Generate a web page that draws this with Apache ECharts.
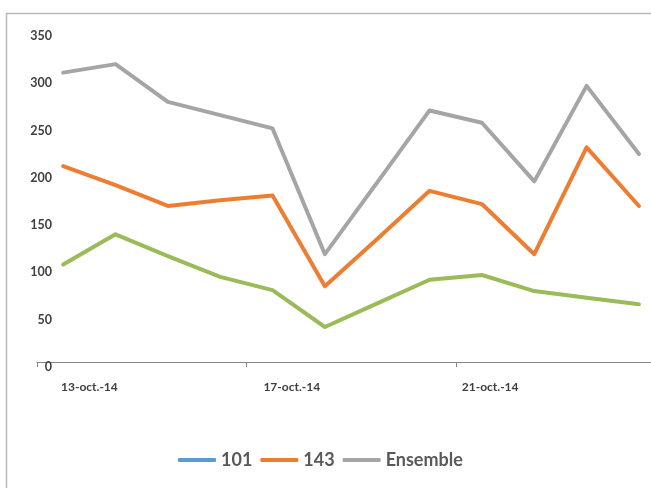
<!DOCTYPE html>
<html>
<head>
<meta charset="utf-8">
<script src="https://cdn.jsdelivr.net/npm/echarts@6/dist/echarts.min.js"></script>
<style>
  html, body { margin: 0; padding: 0; background: #fff; }
  #chart { width: 651px; height: 488px; }
</style>
</head>
<body>
<div id="chart"></div>
<script>
// Data
const categories = ['13-oct.-14','14-oct.-14','15-oct.-14','16-oct.-14','17-oct.-14','18-oct.-14',
                    '19-oct.-14','20-oct.-14','21-oct.-14','22-oct.-14','23-oct.-14','24-oct.-14'];
const s101      = [103, 135, 112, 90, 76, 37, 62, 87, 92, 75, 68, 61];
const s143      = [207, 187, 165, 171, 176, 80, 130, 181, 167, 114, 227, 165];
const sEnsemble = [306, 315, 275, 261, 247, 114, 190, 266, 253, 191, 292, 220];
const yTicks = { min: 0, max: 350, step: 50 };
const labelEvery = 4;

const FONT = 'Lato, "Liberation Sans", sans-serif';

// Day slots on a value axis: day i sits in the middle of slot [i, i+1]
const toPoints = arr => arr.map((v, i) => [i + 0.5, v]);

const labelBase = { fontFamily: FONT, fontWeight: 'bold', fontSize: 12, color: '#404040' };

const chart = echarts.init(document.getElementById('chart'), null, { renderer: 'canvas' });
chart.setOption({
  animation: false,
  backgroundColor: '#ffffff',
  grid: { left: 37, right: 0, top: 31, bottom: 126, containLabel: false },
  graphic: [
    { type: 'line', silent: true, shape: { x1: 6.5, y1: 13.5, x2: 6.5, y2: 488 },
      style: { stroke: '#b8b8b8', lineWidth: 1.5 } },
    { type: 'line', silent: true, shape: { x1: 6, y1: 13.5, x2: 651, y2: 13.5 },
      style: { stroke: '#b8b8b8', lineWidth: 1.5 } }
  ],
  legend: {
    left: 173, top: 446,
    itemWidth: 38, itemHeight: 4, itemGap: 8,
    icon: 'roundRect',
    textStyle: { fontFamily: FONT, fontWeight: 'bold', fontSize: 18, color: '#595959' },
    data: [
      { name: '101', itemStyle: { color: '#5B9BD5' }, lineStyle: { color: '#5B9BD5' } },
      { name: '143' },
      { name: 'Ensemble' }
    ]
  },
  xAxis: {
    type: 'value',
    min: 0, max: 11.73, interval: labelEvery,
    axisLine: { show: true, onZero: false, lineStyle: { color: '#868686', width: 1 } },
    axisTick: { show: true, length: 5, lineStyle: { color: '#868686' } },
    axisLabel: {
      margin: 19, align: 'left',
      showMaxLabel: false,
      formatter: v => (Number.isInteger(v) && categories[v]) ? '{p' + (v / labelEvery) + '|' + categories[v] + '}' : '',
      rich: {
        p0: Object.assign({ padding: [0, 0, 0, 24] }, labelBase),
        p1: Object.assign({ padding: [0, 0, 0, 17] }, labelBase),
        p2: Object.assign({ padding: [0, 0, 0, 6] }, labelBase)
      },
      ...labelBase
    },
    splitLine: { show: false }
  },
  yAxis: {
    type: 'value',
    min: yTicks.min, max: yTicks.max, interval: yTicks.step,
    axisLine: { show: false },
    axisTick: { show: false },
    splitLine: { show: false },
    axisLabel: {
      margin: -15, verticalAlign: 'top', lineHeight: 10,
      fontFamily: FONT, fontWeight: 'bold', fontSize: 12.5, color: '#404040'
    }
  },
  series: [
    { name: '101', type: 'line', data: toPoints(s101), symbol: 'none',
      itemStyle: { color: '#9BBB59' }, lineStyle: { color: '#9BBB59', width: 4, cap: 'round', join: 'round' } },
    { name: '143', type: 'line', data: toPoints(s143), symbol: 'none',
      itemStyle: { color: '#ED7D31' }, lineStyle: { color: '#ED7D31', width: 4, cap: 'round', join: 'round' } },
    { name: 'Ensemble', type: 'line', data: toPoints(sEnsemble), symbol: 'none',
      itemStyle: { color: '#A5A5A5' }, lineStyle: { color: '#A5A5A5', width: 4, cap: 'round', join: 'round' } }
  ]
});
</script>
</body>
</html>
